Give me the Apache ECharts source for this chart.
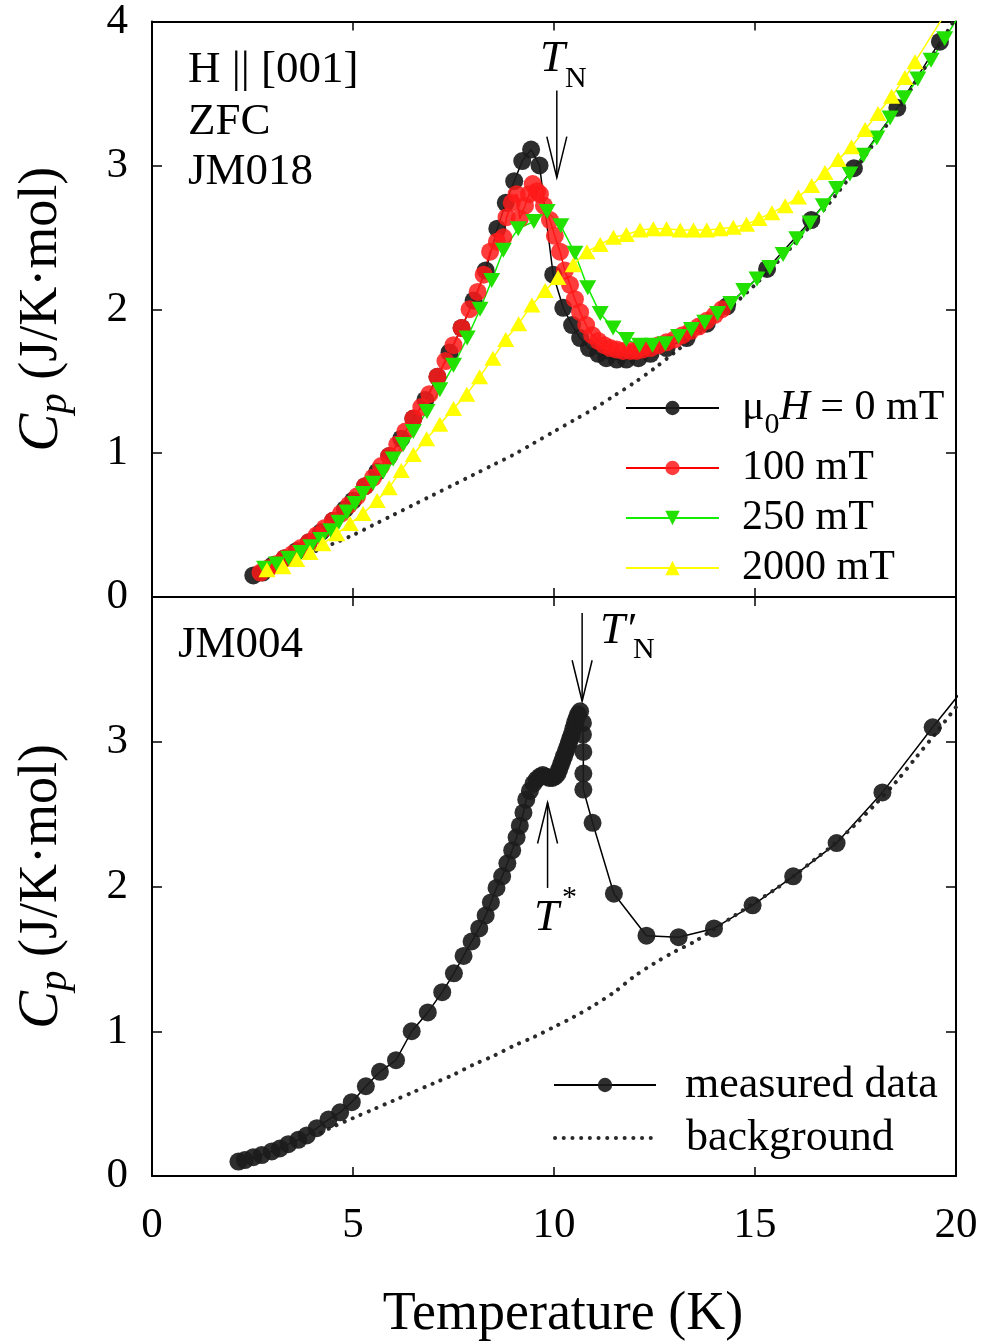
<!DOCTYPE html>
<html><head><meta charset="utf-8">
<script src="https://cdn.jsdelivr.net/npm/echarts@6/dist/echarts.min.js"></script>
<style>html,body{margin:0;padding:0;background:#fff}#c{width:989px;height:1344px}</style>
</head><body><div id="c"></div>
<script>
const FONT = '"Liberation Serif","Times New Roman",serif';

// ---------- top panel (JM018, H || [001], ZFC) ----------
const T_0mT = [2.52,2.75,3.0,3.3,3.6,3.9,4.2,4.5,4.8,5.0,5.3,5.6,5.9,6.2,6.5,6.8,7.1,7.4,7.7,8.0,8.3,8.59,8.8,9.01,9.21,9.43,9.64,9.98,10.23,10.45,10.65,10.87,11.1,11.3,11.56,11.8,12.1,12.4,12.8,13.3,13.8,14.3,15.3,16.4,17.46,18.54,19.6];
const C_0mT = [0.15,0.17,0.22,0.27,0.32,0.38,0.45,0.53,0.61,0.67,0.77,0.87,0.98,1.10,1.24,1.37,1.53,1.70,1.87,2.06,2.27,2.56,2.74,2.89,3.03,3.11,3.00,2.24,2.01,1.89,1.80,1.73,1.69,1.66,1.65,1.65,1.66,1.69,1.73,1.80,1.90,2.02,2.28,2.62,2.98,3.40,3.86];

const T_100mT = [2.7,2.9,3.1,3.3,3.5,3.7,3.9,4.1,4.3,4.5,4.7,4.9,5.1,5.3,5.5,5.7,5.9,6.1,6.3,6.5,6.7,6.9,7.1,7.3,7.5,7.7,7.9,8.1,8.25,8.41,8.58,8.74,8.82,8.95,9.07,9.15,9.28,9.38,9.47,9.58,9.65,9.75,9.9,10.02,10.15,10.27,10.4,10.52,10.65,10.8,10.95,11.1,11.25,11.4,11.56,11.72,11.9,12.05,12.2,12.4,12.6,12.8,13.0,13.2,13.4,13.6,13.8,14.0,14.18];
const C_100mT = [0.17,0.20,0.23,0.27,0.30,0.34,0.38,0.43,0.48,0.53,0.58,0.64,0.70,0.77,0.83,0.91,0.98,1.06,1.15,1.24,1.32,1.41,1.53,1.64,1.75,1.87,2.00,2.12,2.24,2.40,2.47,2.50,2.64,2.74,2.80,2.63,2.72,2.80,2.87,2.82,2.80,2.72,2.62,2.51,2.40,2.27,2.17,2.07,1.98,1.89,1.82,1.78,1.75,1.73,1.72,1.71,1.71,1.71,1.72,1.73,1.75,1.77,1.79,1.82,1.85,1.88,1.92,1.96,2.00];

const T_250mT = [2.8,3.1,3.4,3.7,3.95,4.2,4.45,4.65,4.85,5.05,5.25,5.5,5.75,6.0,6.25,6.5,6.84,7.16,7.5,7.84,8.16,8.45,8.74,9.11,9.5,9.83,10.17,10.52,10.84,11.15,11.47,11.8,12.13,12.45,12.77,13.1,13.42,13.75,14.07,14.4,14.72,15.05,15.37,15.7,16.04,16.37,16.7,17.03,17.36,17.7,18.03,18.36,18.71,19.05,19.38,19.72,20.05];
const C_250mT = [0.20,0.23,0.27,0.31,0.35,0.40,0.46,0.52,0.59,0.65,0.72,0.79,0.87,0.96,1.06,1.15,1.29,1.44,1.61,1.80,2.00,2.20,2.41,2.56,2.61,2.68,2.58,2.39,2.15,1.97,1.87,1.79,1.75,1.75,1.76,1.81,1.86,1.91,1.97,2.04,2.13,2.21,2.29,2.38,2.49,2.60,2.72,2.84,2.94,3.07,3.19,3.33,3.47,3.60,3.73,3.88,4.03];

const T_2000mT = [2.86,3.26,3.6,3.93,4.25,4.6,4.93,5.25,5.6,5.9,6.2,6.5,6.83,7.16,7.5,7.83,8.15,8.48,8.8,9.12,9.45,9.78,10.1,10.48,10.82,11.15,11.48,11.8,12.14,12.47,12.8,13.14,13.47,13.8,14.13,14.46,14.79,15.1,15.42,15.75,16.08,16.41,16.74,17.07,17.4,17.74,18.06,18.4,18.73,18.98,19.95];
const C_2000mT = [0.19,0.21,0.26,0.31,0.37,0.44,0.51,0.58,0.67,0.76,0.88,0.99,1.10,1.20,1.31,1.41,1.53,1.66,1.79,1.90,2.03,2.13,2.22,2.31,2.40,2.45,2.50,2.52,2.55,2.56,2.56,2.55,2.55,2.55,2.56,2.57,2.59,2.63,2.67,2.72,2.78,2.86,2.95,3.04,3.13,3.25,3.36,3.48,3.61,3.72,4.15];

const T_bgTop = [2.7,3.0,3.5,4.0,4.5,5.0,5.5,6.0,6.5,7.0,7.5,8.0,8.5,9.0,9.5,10.0,10.5,11.0,11.5,12.0,12.5,13.0,13.5,14.0,14.5,15.0,15.5,16.0,16.5,17.0,17.5,18.0,18.5,19.0,19.5,20.0];
const C_bgTop = [0.15,0.19,0.25,0.31,0.37,0.43,0.50,0.57,0.64,0.71,0.78,0.85,0.92,0.99,1.07,1.15,1.23,1.31,1.40,1.49,1.59,1.70,1.81,1.92,2.04,2.17,2.31,2.46,2.62,2.79,2.97,3.17,3.37,3.58,3.80,4.03];

// ---------- bottom panel (JM004) ----------
const T_meas = [2.15,2.31,2.52,2.73,2.98,3.18,3.39,3.64,3.85,4.1,4.39,4.68,4.97,5.32,5.67,6.07,6.46,6.86,7.22,7.51,7.75,7.95,8.14,8.30,8.43,8.57,8.71,8.84,8.96,9.07,9.15,9.24,9.31,9.40,9.49,9.57,9.65,9.72,9.80,9.88,9.96,10.03,10.09,10.13,10.17,10.21,10.25,10.29,10.33,10.37,10.40,10.44,10.48,10.52,10.56,10.60,10.65,10.72,10.72,10.73,10.73,10.73,10.96,11.49,12.3,13.1,13.98,14.94,15.95,17.03,18.17,19.42,20.55];
const C_meas = [0.10,0.11,0.13,0.145,0.17,0.19,0.22,0.25,0.28,0.33,0.39,0.44,0.51,0.62,0.72,0.80,1.00,1.13,1.27,1.40,1.52,1.62,1.71,1.80,1.89,1.99,2.07,2.16,2.25,2.34,2.42,2.51,2.60,2.66,2.71,2.74,2.76,2.77,2.76,2.75,2.75,2.76,2.78,2.81,2.84,2.87,2.90,2.93,2.96,2.99,3.02,3.05,3.09,3.13,3.16,3.19,3.21,3.13,3.05,2.93,2.78,2.67,2.44,1.95,1.66,1.65,1.71,1.87,2.07,2.30,2.65,3.10,3.49];

const T_bgBot = [4.2,4.5,5.0,5.5,6.0,6.5,7.0,7.5,8.0,8.5,9.0,9.5,10.0,10.5,11.0,11.5,12.0,12.5,13.0,13.5,14.0,14.5,15.0,15.5,16.0,16.5,17.0,17.5,18.0,18.5,19.0,19.5,20.0];
const C_bgBot = [0.30,0.34,0.40,0.46,0.52,0.58,0.64,0.70,0.77,0.83,0.90,0.96,1.03,1.10,1.18,1.27,1.38,1.47,1.55,1.62,1.71,1.80,1.89,1.98,2.08,2.19,2.30,2.43,2.57,2.72,2.89,3.06,3.24];

const X_TICKS = [0, 5, 10, 15, 20];
const Y_TICKS = [0, 1, 2, 3, 4];

const pts = (T, C) => T.map((t, i) => [t, C[i]]);

const GRID_L = 152, GRID_W = 804, GRID_H = 579;

function xAx(grid, pos, label, name) {
  return {
    type: 'value', gridIndex: grid, position: pos, min: X_TICKS[0], max: X_TICKS[X_TICKS.length - 1], interval: 5,
    axisLine: { onZero: false, lineStyle: { color: '#000', width: 2 } },
    axisTick: { inside: true, length: 9, lineStyle: { color: '#000', width: 1.5 } },
    axisLabel: { show: label, color: '#000', fontFamily: FONT, fontSize: 43, margin: 28 },
    splitLine: { show: false },
    name: name || '', nameLocation: 'middle', nameGap: 112,
    nameTextStyle: { color: '#000', fontFamily: FONT, fontSize: 54, padding: [0, 0, 0, 18] }
  };
}
function yAx(grid, pos, label, hide4) {
  return {
    type: 'value', gridIndex: grid, position: pos, min: Y_TICKS[0], max: Y_TICKS[Y_TICKS.length - 1], interval: 1,
    axisLine: { onZero: false, lineStyle: { color: '#000', width: 2 } },
    axisTick: { inside: true, length: 10, lineStyle: { color: '#000', width: 1.5 } },
    axisLabel: { show: label, color: '#000', fontFamily: FONT, fontSize: 43, margin: 24,
      formatter: v => (hide4 && v === 4) ? '' : String(v) },
    splitLine: { show: false },
    name: label ? '{c|C}{p|p}{n| (J/K·mol)}' : '', nameLocation: 'middle', nameRotate: 90, nameGap: 76,
    nameTextStyle: { color: '#000', fontFamily: FONT, fontSize: 54,
      rich: {
        c: { fontFamily: FONT, fontSize: 57, fontStyle: 'italic', color: '#000' },
        p: { fontFamily: FONT, fontSize: 41, fontStyle: 'italic', color: '#000', verticalAlign: 'top', padding: [27, 0, 0, 0] },
        n: { fontFamily: FONT, fontSize: 54, color: '#000' }
      } }
  };
}

const bgLine = { color: '#2a2a2a', width: 4, type: [0.1, 8.6], cap: 'round' };

const series = [
  { name: 'μ0H = 0 mT', type: 'line', xAxisIndex: 0, yAxisIndex: 0, data: pts(T_0mT, C_0mT),
    symbol: 'circle', symbolSize: 18, itemStyle: { color: '#1c1c1c', opacity: 0.92 },
    lineStyle: { color: '#000', width: 1.5 } },
  { name: '100 mT', type: 'line', xAxisIndex: 0, yAxisIndex: 0, data: pts(T_100mT, C_100mT),
    symbol: 'circle', symbolSize: 18, itemStyle: { color: '#ff1a1a', opacity: 0.85 },
    lineStyle: { color: '#ff0000', width: 1.5 } },
  { name: '250 mT', type: 'line', xAxisIndex: 0, yAxisIndex: 0, data: pts(T_250mT, C_250mT),
    symbol: 'triangle', symbolRotate: 180, symbolSize: [17, 15], itemStyle: { color: '#22e000' },
    lineStyle: { color: '#11ee00', width: 1.5 } },
  { name: '2000 mT', type: 'line', xAxisIndex: 0, yAxisIndex: 0, data: pts(T_2000mT, C_2000mT),
    symbol: 'triangle', symbolSize: [17, 15], itemStyle: { color: '#ffff00' },
    lineStyle: { color: '#ffff00', width: 1.5 } },
  { name: 'bgTop', type: 'line', xAxisIndex: 0, yAxisIndex: 0, data: pts(T_bgTop, C_bgTop),
    symbol: 'none', itemStyle: { color: '#2a2a2a', opacity: 0 }, lineStyle: bgLine, smooth: 0.3 },
  { name: 'measured data', type: 'line', xAxisIndex: 2, yAxisIndex: 2, data: pts(T_meas, C_meas),
    symbol: 'circle', symbolSize: 18, itemStyle: { color: '#1c1c1c', opacity: 0.92 },
    lineStyle: { color: '#000', width: 1.5 } },
  { name: 'background', type: 'line', xAxisIndex: 2, yAxisIndex: 2, data: pts(T_bgBot, C_bgBot),
    symbol: 'none', itemStyle: { color: '#2a2a2a', opacity: 0 }, lineStyle: bgLine, smooth: 0.3 }
];
series.forEach(s => { s.animation = false; s.clip = true; s.emphasis = { disabled: true }; });

function legendRow(name, left, top, w, fs, padL, rich, extra) {
  return Object.assign({
    data: [name], left, top, orient: 'vertical', padding: 0, itemGap: 0,
    itemWidth: w, itemHeight: 18, selectedMode: false,
    textStyle: Object.assign({ color: '#000', fontFamily: FONT, fontSize: fs, lineHeight: fs + 4, padding: [0, 0, 0, padL] }, rich ? { rich } : {}),
    formatter: rich ? () => '{m|μ}{s|0}{h|H}{t| = 0 mT}' : undefined
  }, extra || {});
}
const legRich = {
  m: { fontFamily: FONT, fontSize: 42, lineHeight: 46, color: '#000' },
  s: { fontFamily: FONT, fontSize: 30, lineHeight: 46, color: '#000', verticalAlign: 'top', padding: [25, 0, 0, 0] },
  h: { fontFamily: FONT, fontSize: 42, lineHeight: 46, fontStyle: 'italic', color: '#000' },
  t: { fontFamily: FONT, fontSize: 42, lineHeight: 46, color: '#000' }
};

const option = {
  backgroundColor: '#fff',
  animation: false,
  grid: [
    { left: GRID_L, top: 18, width: GRID_W, height: GRID_H },
    { left: GRID_L, top: 18 + GRID_H, width: GRID_W, height: GRID_H }
  ],
  xAxis: [xAx(0, 'bottom', false), xAx(0, 'top', false), xAx(1, 'bottom', true, 'Temperature (K)'), xAx(1, 'top', false)],
  yAxis: [yAx(0, 'left', true, false), yAx(0, 'right', false), yAx(1, 'left', true, true), yAx(1, 'right', false)],
  legend: [
    legendRow('μ0H = 0 mT', 625, 385, 93, 42, 18, legRich),
    legendRow('100 mT', 625, 445, 93, 42, 18),
    legendRow('250 mT', 625, 495, 93, 42, 18),
    legendRow('2000 mT', 625, 545, 93, 42, 18),
    legendRow('measured data', 553, 1061, 102, 44, 24),
    legendRow('background', 553, 1114, 102, 44, 24, null,
      { lineStyle: { width: 4, type: [0.1, 8.6], cap: 'round', color: '#2a2a2a' }, itemStyle: { opacity: 0 } })
  ],
  series
};

const chart = echarts.init(document.getElementById('c'), null, { renderer: 'canvas' });
chart.setOption(option);

// ---------- annotations ----------
const ARROWS = [
  { si: 0, x: 10.07, from: 3.52, to: 2.915 },   // T_N (top)
  { si: 5, x: 10.70, from: 3.89, to: 3.28 },    // T'_N (bottom)
  { si: 5, x: 9.84, from: 1.99, to: 2.58 }      // T* (bottom, upward)
];
const gr = [];
ARROWS.forEach(a => {
  const p0 = chart.convertToPixel({ seriesIndex: a.si }, [a.x, a.from]);
  const p1 = chart.convertToPixel({ seriesIndex: a.si }, [a.x, a.to]);
  const dir = p1[1] > p0[1] ? -1 : 1;
  gr.push({ type: 'line', shape: { x1: p0[0], y1: p0[1], x2: p1[0], y2: p1[1] }, style: { stroke: '#000', lineWidth: 1.5 }, z: 50 });
  gr.push({ type: 'polyline', shape: { points: [[p1[0] - 10, p1[1] + dir * 41], [p1[0], p1[1]], [p1[0] + 10, p1[1] + dir * 41]] },
    style: { stroke: '#000', lineWidth: 1.5, fill: null }, z: 50 });
});
function txt(text, x, y, size, italic, align) {
  return { type: 'text', x, y, z: 60, style: { text, fill: '#000', font: (italic ? 'italic ' : '') + size + 'px ' + FONT,
    textAlign: align || 'left', textVerticalAlign: 'middle' } };
}
gr.push(txt('H || [001]', 188, 70, 45));
gr.push(txt('ZFC', 188, 122, 45));
gr.push(txt('JM018', 188, 172, 45));
gr.push(txt('JM004', 178, 645, 45));
gr.push(txt('T', 540, 59, 45, true));
gr.push(txt('N', 565, 79, 30));
gr.push(txt('T′', 600, 631, 45, true));
gr.push(txt('N', 633, 650, 30));
gr.push(txt('T', 534, 918, 45, true));
gr.push(txt('*', 562, 898, 30));
chart.setOption({ graphic: gr });
</script></body></html>
